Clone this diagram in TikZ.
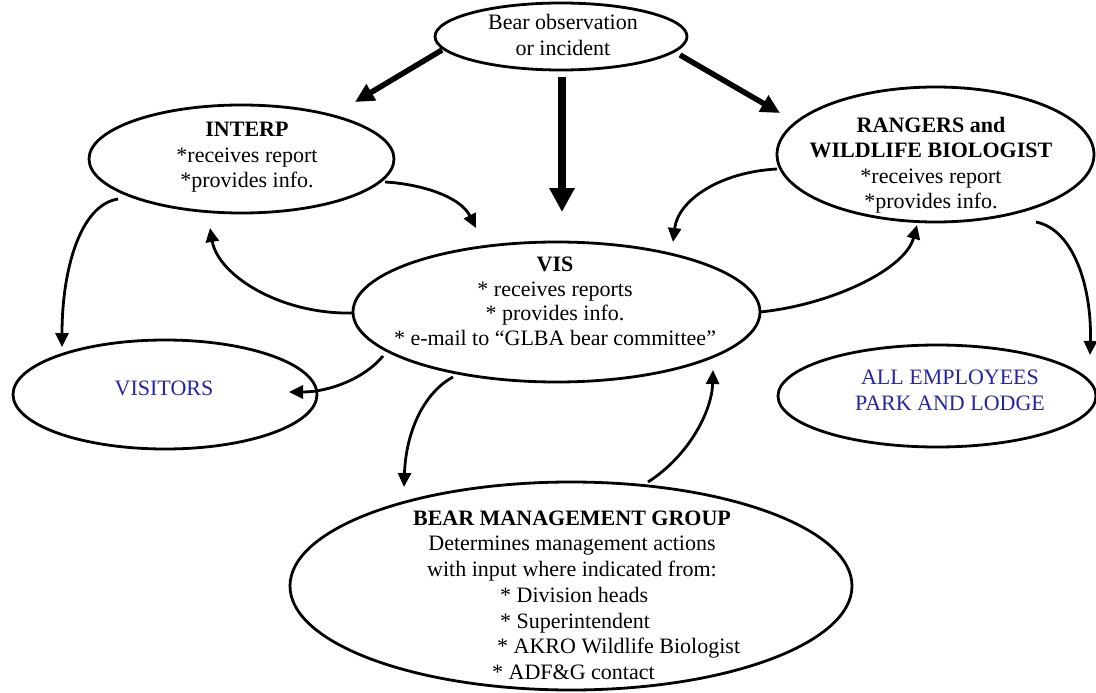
\documentclass[tikz,border=0pt]{standalone}
\usepackage{fontspec}
\setmainfont{Liberation Serif}
\usetikzlibrary{arrows.meta,shapes.geometric}
\definecolor{txtblue}{RGB}{38,38,165}
\begin{document}
\begin{tikzpicture}[x=1pt,y=-1pt,
  ell/.style={draw, ellipse, line width=2.8pt, inner sep=0pt},
  txt/.style={inner sep=0pt, align=center, font=\fontsize{22}{25.5}\selectfont},
  conn/.style={line width=2.8pt, -{Triangle[length=14pt,width=13pt]}},
  thickarr/.style={line width=5.5pt, -{Triangle[length=19pt,width=18pt]}},
  bigarr/.style={line width=8pt, -{Triangle[length=24pt,width=24pt]}}]
\fill[white] (0,0) rectangle (1096,693);
\useasboundingbox (0,0) rectangle (1096,693);

% ellipses
\node[ell, minimum width=252pt, minimum height=67pt] (top) at (561,36.5) {};
\node[ell, minimum width=305pt, minimum height=108pt] (interp) at (241.5,159) {};
\node[ell, minimum width=317pt, minimum height=135pt] (rangers) at (935.5,154.5) {};
\node[ell, minimum width=407pt, minimum height=140pt] (vis) at (556.5,312) {};
\node[ell, minimum width=304pt, minimum height=109pt] (visitors) at (165,394.5) {};
\node[ell, minimum width=318pt, minimum height=102pt] (allemp) at (937,396) {};
\node[ell, minimum width=562pt, minimum height=208pt] (bmg) at (571,586) {};

% texts
\node[txt] (topt) at (563,35) {Bear observation\\or incident};
\node[txt] (interpt) at (247,157.5) {\textbf{INTERP}\\*receives report\\*provides info.};
\node[txt] (rangerst) at (931,165) {\textbf{RANGERS and}\\\textbf{WILDLIFE BIOLOGIST}\\*receives report\\*provides info.};
\node[txt, font=\fontsize{22}{24.5}\selectfont] (vist) at (555,301.5) {\textbf{VIS}\\* receives reports\\* provides info.\\* e-mail to “GLBA bear committee”};
\node[txt, text=txtblue] (visitorst) at (164,388.7) {VISITORS};
\node[txt, text=txtblue] (allempt) at (950,390.2) {ALL EMPLOYEES\\PARK AND LODGE};
\node[txt] (bmgt) at (572,546) {\textbf{BEAR MANAGEMENT GROUP}\\Determines management actions\\with input where indicated from:};
\node[txt, align=left, anchor=west] (bmgl) at (492,633.5) {\hspace*{8pt}* Division heads\\\hspace*{8pt}* Superintendent\\\hspace*{5pt}* AKRO Wildlife Biologist\\* ADF\&G contact};

% straight arrows from the top ellipse
\draw[thickarr] ([shift={(-119,13.5)}]top.center) -- ([shift={(113.5,-57)}]interp.center);
\draw[bigarr] ([shift={(1,40.5)}]top.center) -- ([shift={(5.5,-100)}]vis.center);
\draw[thickarr] ([shift={(119,18.5)}]top.center) -- ([shift={(-155.5,-41.5)}]rangers.center);

% curved connectors
\draw[conn] ([shift={(143.5,23)}]interp.center) .. controls (420,184) and (460,196) .. ([shift={(-80.5,-84)}]vis.center);
\draw[conn] ([shift={(-202.5,1)}]vis.center) .. controls (280,315) and (218,275) .. ([shift={(-31.5,69)}]interp.center);
\draw[conn] ([shift={(-123.5,40)}]interp.center) .. controls (80,205) and (62,270) .. ([shift={(-103,-47.5)}]visitors.center);
\draw[conn] ([shift={(-173.5,44)}]vis.center) .. controls (365,378) and (330,392) .. ([shift={(124,-2.5)}]visitors.center);
\draw[conn] ([shift={(-103.5,65)}]vis.center) .. controls (425,392) and (406,430) .. ([shift={(-167,-99)}]bmg.center);
\draw[conn] ([shift={(77,-104)}]bmg.center) .. controls (690,455) and (712,410) .. ([shift={(156.5,58)}]vis.center);
\draw[conn] ([shift={(203.5,0)}]vis.center) .. controls (830,305) and (905,270) .. ([shift={(-18.5,70.5)}]rangers.center);
\draw[conn] ([shift={(-158.5,14.5)}]rangers.center) .. controls (720,172) and (678,200) .. ([shift={(116.5,-70)}]vis.center);
\draw[conn] ([shift={(100.5,67.5)}]rangers.center) .. controls (1075,230) and (1092,290) .. ([shift={(153,-41)}]allemp.center);
\end{tikzpicture}
\end{document}
